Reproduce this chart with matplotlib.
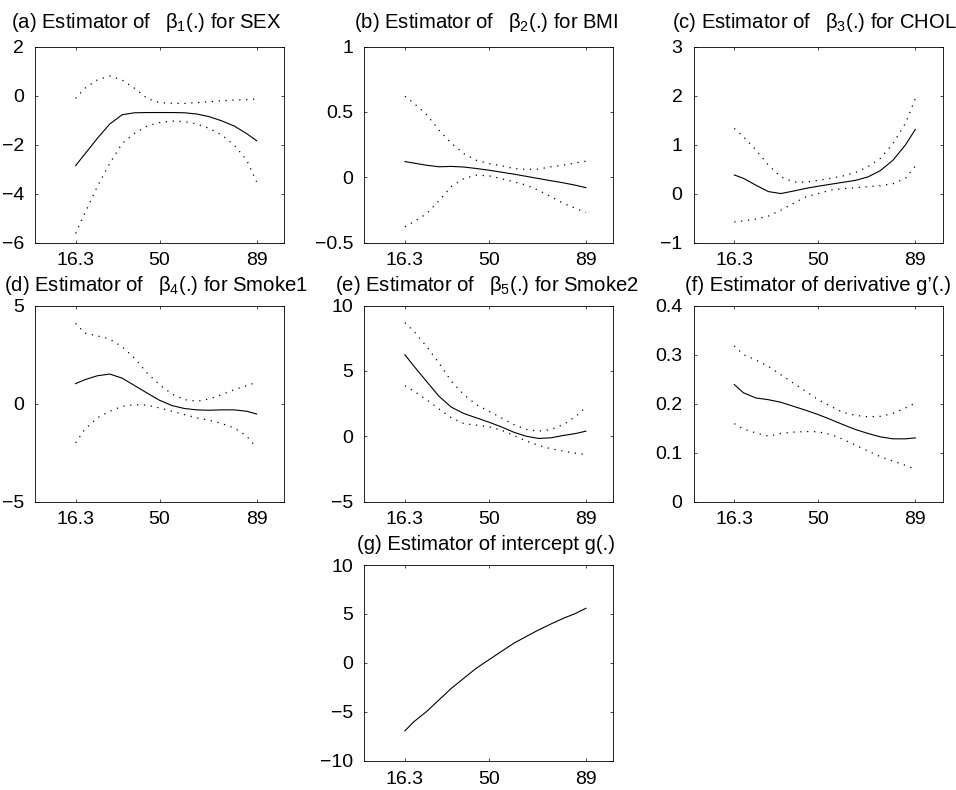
import matplotlib
matplotlib.use("Agg")
import matplotlib.pyplot as plt

plt.rcParams['font.family'] = ['Liberation Sans', 'DejaVu Sans']
plt.rcParams['mathtext.fontset'] = 'custom'
plt.rcParams['mathtext.rm'] = 'Liberation Sans'
plt.rcParams['mathtext.it'] = 'Liberation Sans'
plt.rcParams['mathtext.default'] = 'regular'

# ---------------- data ----------------
age = [16.3, 20, 25, 30, 35, 40, 45, 50, 55, 60, 65, 70, 75, 80, 85, 89]

sex_est = [-2.86, -2.39, -1.75, -1.16, -0.78, -0.70, -0.69, -0.69, -0.69, -0.70, -0.75, -0.86, -1.03, -1.24, -1.55, -1.84]
sex_up = [-0.11, 0.30, 0.64, 0.80, 0.64, 0.30, -0.11, -0.29, -0.31, -0.32, -0.28, -0.25, -0.21, -0.18, -0.16, -0.14]
sex_lo = [-5.63, -4.81, -3.72, -2.77, -1.95, -1.54, -1.24, -1.10, -1.04, -1.06, -1.16, -1.34, -1.61, -2.02, -2.63, -3.52]

bmi_est = [0.12, 0.108, 0.092, 0.080, 0.083, 0.078, 0.067, 0.054, 0.039, 0.024, 0.007, -0.010, -0.027, -0.043, -0.062, -0.080]
bmi_up = [0.62, 0.565, 0.48, 0.36, 0.26, 0.18, 0.13, 0.105, 0.088, 0.067, 0.060, 0.062, 0.080, 0.093, 0.110, 0.123]
bmi_lo = [-0.38, -0.34, -0.28, -0.18, -0.07, -0.01, 0.016, 0.011, -0.010, -0.035, -0.060, -0.100, -0.150, -0.200, -0.240, -0.270]

chol_est = [0.38, 0.31, 0.17, 0.04, 0.00, 0.05, 0.105, 0.15, 0.19, 0.23, 0.27, 0.34, 0.47, 0.68, 0.99, 1.31]
chol_up = [1.33, 1.16, 0.89, 0.58, 0.34, 0.24, 0.23, 0.27, 0.31, 0.36, 0.43, 0.55, 0.72, 1.02, 1.43, 1.94]
chol_lo = [-0.58, -0.56, -0.52, -0.46, -0.34, -0.20, -0.07, 0.00, 0.07, 0.10, 0.12, 0.14, 0.16, 0.20, 0.31, 0.56]

smk1_est = [1.02, 1.22, 1.42, 1.51, 1.30, 0.92, 0.54, 0.17, -0.10, -0.25, -0.32, -0.34, -0.32, -0.32, -0.39, -0.53]
smk1_up = [4.10, 3.60, 3.46, 3.30, 2.90, 2.32, 1.56, 0.97, 0.49, 0.20, 0.12, 0.24, 0.46, 0.71, 0.92, 1.08]
smk1_lo = [-2.00, -1.32, -0.73, -0.39, -0.14, -0.05, -0.08, -0.22, -0.39, -0.56, -0.73, -0.85, -1.02, -1.24, -1.66, -2.25]

smk2_est = [6.24, 5.35, 4.20, 3.06, 2.22, 1.74, 1.41, 1.08, 0.72, 0.31, 0.00, -0.17, -0.12, 0.06, 0.21, 0.39]
smk2_up = [8.70, 8.02, 6.88, 5.60, 4.20, 3.19, 2.42, 1.92, 1.41, 0.90, 0.52, 0.39, 0.52, 0.90, 1.53, 2.22]
smk2_lo = [3.87, 3.44, 2.80, 2.09, 1.41, 0.97, 0.85, 0.72, 0.47, 0.06, -0.37, -0.70, -0.96, -1.14, -1.31, -1.39]

deriv_est = [0.239, 0.222, 0.2115, 0.208, 0.2027, 0.1946, 0.1864, 0.1776, 0.1675, 0.157, 0.147, 0.139, 0.132, 0.128, 0.128, 0.130]
deriv_up = [0.318, 0.300, 0.289, 0.276, 0.259, 0.242, 0.225, 0.208, 0.1946, 0.182, 0.176, 0.173, 0.174, 0.180, 0.191, 0.201]
deriv_lo = [0.159, 0.148, 0.140, 0.1336, 0.139, 0.1417, 0.143, 0.1424, 0.137, 0.127, 0.115, 0.103, 0.0915, 0.0827, 0.074, 0.066]

icpt_est = [-6.94, -5.99, -4.97, -3.78, -2.59, -1.56, -0.54, 0.31, 1.16, 2.00, 2.69, 3.37, 3.98, 4.56, 5.07, 5.58]

xticks = [16.3, 50, 89]
xticklabels = ['16.3', '50', '89']

panels = [
    ("(a) Estimator of \u2002$\\beta_{1}$(.) for SEX", sex_est, sex_up, sex_lo, (-6, 2), [-6, -4, -2, 0, 2], ['\u22126', '\u22124', '\u22122', '0', '2']),
    ("(b) Estimator of \u2002$\\beta_{2}$(.) for BMI", bmi_est, bmi_up, bmi_lo, (-0.5, 1), [-0.5, 0, 0.5, 1], ['\u22120.5', '0', '0.5', '1']),
    ("(c) Estimator of \u2002$\\beta_{3}$(.) for CHOL", chol_est, chol_up, chol_lo, (-1, 3), [-1, 0, 1, 2, 3], ['\u22121', '0', '1', '2', '3']),
    ("(d) Estimator of \u2002$\\beta_{4}$(.) for Smoke1", smk1_est, smk1_up, smk1_lo, (-5, 5), [-5, 0, 5], ['\u22125', '0', '5']),
    ("(e) Estimator of \u2002$\\beta_{5}$(.) for Smoke2", smk2_est, smk2_up, smk2_lo, (-5, 10), [-5, 0, 5, 10], ['\u22125', '0', '5', '10']),
    ("(f) Estimator of derivative g\u2019(.)", deriv_est, deriv_up, deriv_lo, (0, 0.4), [0, 0.1, 0.2, 0.3, 0.4], ['0', '0.1', '0.2', '0.3', '0.4']),
    ("(g) Estimator of intercept g(.)", icpt_est, None, None, (-10, 10), [-10, -5, 0, 5, 10], ['\u221210', '\u22125', '0', '5', '10']),
]

# layout in pixels
W, H = 956, 790
col_left = [35, 364.3, 693.7]
row_top = [46.7, 305.7, 565]
aw, ah = 249, 195.8
slots = [(0, 0), (0, 1), (0, 2), (1, 0), (1, 1), (1, 2), (2, 1)]
title_x = [0.448, 0.489, 0.483, 0.486, 0.494, 0.499, 0.488]
title_pad = [13.5, 13.5, 13.5, 10.5, 10.5, 10.5, 10.5]

fig = plt.figure(figsize=(W / 100, H / 100), dpi=100)

for i, (title, est, up, lo, ylim, yt, ytl) in enumerate(panels):
    r, c = slots[i]
    ax = fig.add_axes([col_left[c] / W, 1 - (row_top[r] + ah) / H, aw / W, ah / H])
    ax.plot(age, est, color='black', lw=0.8)
    if up is not None:
        ax.plot(age, up, color='black', lw=0.9, linestyle=(0, (1, 4.5)))
        ax.plot(age, lo, color='black', lw=0.9, linestyle=(0, (1, 4.5)))
    ax.set_xlim(0, 100)
    ax.set_ylim(*ylim)
    ax.set_xticks(xticks)
    ax.set_xticklabels(xticklabels)
    ax.set_yticks(yt)
    ax.set_yticklabels(ytl)
    ax.tick_params(direction='in', length=2.5, width=0.5, top=True, right=True,
                   labelsize=14)
    ax.tick_params(axis='y', pad=8)
    ax.tick_params(axis='x', pad=7)
    for s in ax.spines.values():
        s.set_linewidth(0.6)
    ax.set_title(title, fontsize=14.6, x=title_x[i], pad=title_pad[i])

fig.savefig('out.png', dpi=100)
